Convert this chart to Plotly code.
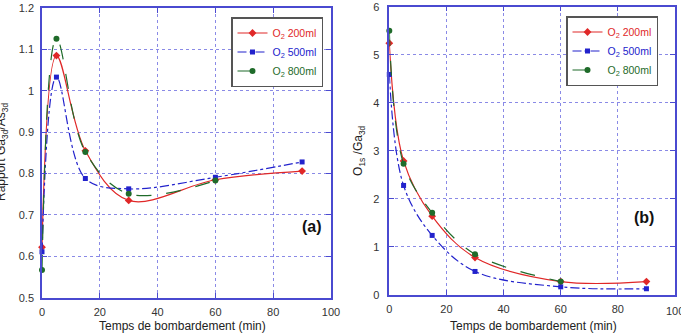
import plotly.graph_objects as go

# ---- data ----
time_min = [0, 5, 15, 30, 60, 90]
time_800 = [0, 5, 15, 30, 60]

ratio_a_200 = [0.622, 1.085, 0.855, 0.735, 0.785, 0.806]
ratio_a_500 = [0.611, 1.033, 0.788, 0.763, 0.791, 0.828]
ratio_a_800 = [0.567, 1.126, 0.852, 0.751, 0.783]

ratio_b_200 = [5.24, 2.79, 1.64, 0.78, 0.28, 0.28]
ratio_b_500 = [4.59, 2.28, 1.24, 0.49, 0.17, 0.13]
ratio_b_800 = [5.50, 2.73, 1.71, 0.85, 0.28]

series_names = ["200ml", "500ml", "800ml"]
x_ticks = [0, 20, 40, 60, 80, 100]

RED = "#e02828"
BLUE = "#2222cc"
GREEN = "#1f6b2a"
FRAME = "#4a4ad0"
GRID = "#8a8ae6"
FONT = "Liberation Sans, Arial, sans-serif"

styles = [
    dict(color=RED, dash="solid", symbol="diamond", size=6),
    dict(color=BLUE, dash="dashdot", symbol="square", size=5),
    dict(color=GREEN, dash="longdash", symbol="circle", size=6),
]

fig = go.Figure()

def add_series(xs, ys, st, name, xaxis, yaxis, legend):
    fig.add_trace(go.Scatter(
        x=xs, y=ys, mode="lines+markers",
        line=dict(color=st["color"], dash=st["dash"], width=1.2, shape="spline", smoothing=1.0),
        marker=dict(color=st["color"], symbol=st["symbol"], size=st["size"]),
        name=f'<span style="color:{st["color"]}">O<sub>2</sub> {name}</span>',
        xaxis=xaxis, yaxis=yaxis, legend=legend, cliponaxis=False,
    ))

a_data = [(time_min, ratio_a_200), (time_min, ratio_a_500), (time_800, ratio_a_800)]
b_data = [(time_min, ratio_b_200), (time_min, ratio_b_500), (time_800, ratio_b_800)]
for (xs, ys), st, nm in zip(a_data, styles, series_names):
    add_series(xs, ys, st, nm, "x", "y", "legend")
for (xs, ys), st, nm in zip(b_data, styles, series_names):
    add_series(xs, ys, st, nm, "x2", "y2", "legend2")

axis_common = dict(
    showline=True, linecolor=FRAME, linewidth=1.5, mirror="allticks",
    ticks="inside", ticklen=5, tickcolor=FRAME, automargin=False,
    showgrid=True, gridcolor=GRID, griddash="dot", gridwidth=1,
    zeroline=False, tickfont=dict(size=11, color="#333333", family=FONT),
)

W, H = 681, 333
fig.update_layout(
    width=W, height=H, margin=dict(l=0, r=0, t=0, b=0),
    paper_bgcolor="white", plot_bgcolor="white",
    font=dict(family=FONT, color="#222222"),
    xaxis=dict(domain=[42 / W, 331 / W], range=[0, 100], tickvals=x_ticks, anchor="y",
               ticklabelstandoff=3, **axis_common),
    yaxis=dict(domain=[1 - 297.7 / H, 1 - 8 / H], range=[0.5, 1.2], dtick=0.1, anchor="x",
               ticklabelstandoff=4, **axis_common),
    xaxis2=dict(domain=[389.3 / W, 675 / W], range=[0, 100], tickvals=x_ticks[:-1], anchor="y2",
                ticklabelstandoff=3, **axis_common),
    yaxis2=dict(domain=[1 - 295 / H, 1 - 6.7 / H], range=[0, 6], dtick=1, anchor="x2",
                ticklabelstandoff=6,
                title=dict(text="O<sub>1s</sub> /Ga<sub>3d</sub>", font=dict(size=12), standoff=8), **axis_common),
    legend=dict(x=323 / W, xanchor="right", y=1 - 17 / H, yanchor="top",
                bgcolor="white", bordercolor="#555555", borderwidth=1.5,
                font=dict(size=10.5, family=FONT), itemwidth=30, tracegroupgap=0),
    legend2=dict(x=658 / W, xanchor="right", y=1 - 16 / H, yanchor="top",
                 bgcolor="white", bordercolor="#555555", borderwidth=1.5,
                 font=dict(size=10.5, family=FONT), itemwidth=30, tracegroupgap=0),
    showlegend=True,
)

fig.add_annotation(text="<b>(a)</b>", xref="paper", yref="paper", x=312 / W, y=1 - 237 / H,
                   showarrow=False, font=dict(size=16, color="#111111", family=FONT))
fig.add_annotation(text="<b>(b)</b>", xref="paper", yref="paper", x=656 / W, y=1 - 228 / H,
                   showarrow=False, font=dict(size=16, color="#111111", family=FONT))
# last tick label of the right x axis, cut by the page edge as in the reference
fig.add_annotation(text=str(x_ticks[-1]), xref="x2", yref="paper", x=x_ticks[-1], xanchor="center",
                   y=1 - 311 / H, yanchor="middle", showarrow=False,
                   font=dict(size=11, color="#333333", family=FONT))
# x-axis titles
for xc in (183, 533):
    fig.add_annotation(text="Temps de bombardement (min)", xref="paper", yref="paper",
                       x=xc / W, xanchor="center", y=1 - 326 / H, yanchor="middle",
                       showarrow=False, font=dict(size=12, color="#222222", family=FONT))
# left y-axis title, partly cut off by the page edge as in the reference
fig.add_annotation(text="Rapport Ga<sub>3d</sub>/As<sub>3d</sub>", xref="paper", yref="paper",
                   x=2 / W, xanchor="center", y=1 - 152 / H, yanchor="middle", textangle=-90,
                   showarrow=False, font=dict(size=12, color="#222222", family=FONT))

fig.write_html("out.html")
